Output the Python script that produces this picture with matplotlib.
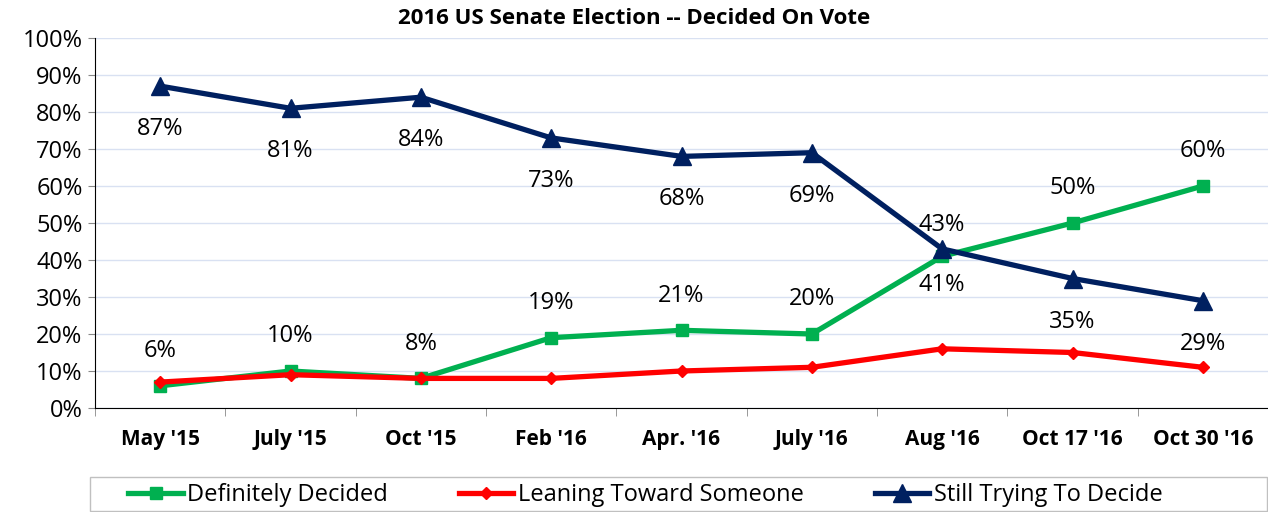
import matplotlib
matplotlib.use('Agg')
import matplotlib.pyplot as plt
from matplotlib.patches import Rectangle
from matplotlib.ticker import FuncFormatter, FixedLocator

plt.rcParams['font.family'] = ['Open Sans', 'DejaVu Sans']

CATEGORIES = ["May '15", "July '15", "Oct '15", "Feb '16", "Apr. '16",
              "July '16", "Aug '16", "Oct 17 '16", "Oct 30 '16"]
DECIDED = [6, 10, 8, 19, 21, 20, 41, 50, 60]
LEANING = [7, 9, 8, 8, 10, 11, 16, 15, 11]
TRYING = [87, 81, 84, 73, 68, 69, 43, 35, 29]

GREEN = '#00b050'
RED = '#ff0000'
NAVY = '#002060'
SWAPPED_LABELS = ["Aug '16"]  # where the lines cross, labels trade places

fig = plt.figure(figsize=(12.68, 5.12), dpi=100)
ax = fig.add_axes([95 / 1268, 104 / 512, 1 - 95 / 1268, (408 - 38) / 512])

x = list(range(len(CATEGORIES)))
ax.plot(x, DECIDED, color=GREEN, lw=3.8, marker='s', ms=8, label='Definitely Decided', zorder=3)
ax.plot(x, LEANING, color=RED, lw=3.8, marker='D', ms=6, label='Leaning Toward Someone', zorder=4)
ax.plot(x, TRYING, color=NAVY, lw=3.8, marker='^', ms=13, label='Still Trying To Decide', zorder=3)

# data labels: green above, navy below
for i in x:
    g, t = DECIDED[i], TRYING[i]
    if CATEGORIES[i] in SWAPPED_LABELS:
        g_off, t_off = -21, 17
    else:
        g_off, t_off = 25, -31
    ax.annotate(f'{g}%', (i, g), xytext=(0, g_off), textcoords='offset points',
                ha='center', va='center', fontsize=17)
    ax.annotate(f'{t}%', (i, t), xytext=(0, t_off), textcoords='offset points',
                ha='center', va='center', fontsize=17)

ax.set_xlim(-0.5, len(CATEGORIES) - 0.5)
ax.set_ylim(0, 100)
ax.set_yticks(range(0, 101, 10))
ax.yaxis.set_major_formatter(FuncFormatter(lambda v, p: f'{int(v)}%'))
ax.tick_params(axis='y', labelsize=17, length=5, color='#888888', pad=4)
ax.grid(axis='y', color='#d9e1f2', lw=1)
ax.set_axisbelow(True)

ax.set_xticks(x)
ax.set_xticklabels(CATEGORIES, fontsize=15, fontweight='bold')
ax.tick_params(axis='x', length=0, pad=15)
ax.xaxis.set_minor_locator(FixedLocator([i + 0.5 for i in range(-1, len(CATEGORIES))]))
ax.tick_params(axis='x', which='minor', length=6, color='#888888')

for s in ['top', 'right']:
    ax.spines[s].set_visible(False)
ax.spines['left'].set_color('black')
ax.spines['bottom'].set_color('black')

fig.text(0.5, 1 - 18 / 512, '2016 US Senate Election -- Decided On Vote', ha='center', va='center',
         fontsize=16, fontweight='bold')

fig.patches.append(Rectangle((90 / 1268, 0.002), 1 - 90 / 1268 - 0.001, 34 / 512,
                             transform=fig.transFigure, fill=False, edgecolor='#c0c0c0', lw=1))
fig.legend(loc='center', bbox_to_anchor=(0.509, 17 / 512), ncol=3, frameon=False,
           fontsize=17, columnspacing=3.0, handlelength=2.3, handletextpad=0.2)

fig.savefig('out.png', dpi=100)
